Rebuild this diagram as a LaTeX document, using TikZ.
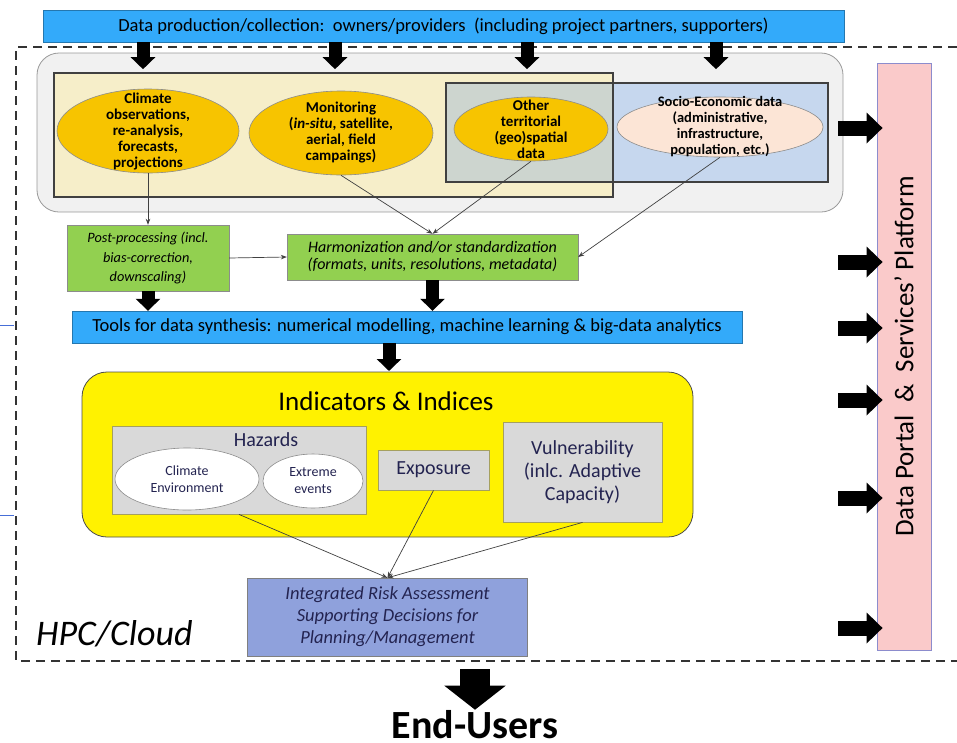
\documentclass[tikz,border=0pt]{standalone}
\usepackage{fontspec}
\setmainfont{Carlito}
\usetikzlibrary{arrows.meta,shapes.geometric}

\definecolor{barblue}{RGB}{51,170,250}
\definecolor{bargrey}{RGB}{241,241,241}
\definecolor{beige}{RGB}{246,238,201}
\definecolor{paleblue}{RGB}{198,215,238}
\definecolor{overlap}{RGB}{205,213,207}
\definecolor{gold}{RGB}{247,196,0}
\definecolor{peach}{RGB}{252,229,214}
\definecolor{leaf}{RGB}{146,208,80}
\definecolor{boxgrey}{RGB}{217,217,217}
\definecolor{olive}{RGB}{165,160,95}
\definecolor{lavender}{RGB}{143,161,220}
\definecolor{rose}{RGB}{250,202,202}
\definecolor{rosedge}{RGB}{140,140,205}
\definecolor{navy}{RGB}{35,35,80}
\definecolor{stray}{RGB}{70,110,215}

\tikzset{
	fatdown/.style={line width=13pt, -{Triangle[width=24pt,length=12pt]}},
	fatright/.style={line width=15pt, -{Triangle[width=30pt,length=16pt]}},
	bigdown/.style={line width=30pt, -{Triangle[width=60pt,length=24pt]}},
	thinarrow/.style={draw=black!75, line width=0.7pt, -{Stealth[length=6pt,width=4.5pt]}},
	bar/.style={draw=barblue!70!black, fill=barblue, inner sep=0pt, font=\fontsize{18.5}{20}\selectfont},
	ell/.style={ellipse, draw=black!45, line width=0.6pt, inner sep=0pt},
	ellfont/.style={align=center, font=\fontsize{15}{16}\selectfont\bfseries},
	greenbox/.style={draw=black!45, fill=leaf, align=center, inner sep=0pt},
	greybox/.style={draw=olive, line width=0.8pt, fill=boxgrey, align=center, inner sep=0pt, text=navy},
	smallfont/.style={align=center, text=navy, font=\fontsize{14}{17}\selectfont}
}

\begin{document}
\begin{tikzpicture}[x=1pt, y=-1pt]
	%%%%% START %%%%%
	\useasboundingbox (0,0) rectangle (957,742);
	
	\node[bar, minimum width=801pt, minimum height=32pt] (prod) at (443.5,26)
		{Data production/collection:\ \ owners/providers\ \ (including project partners, supporters)};
	
	\draw[black!80, line width=2.2pt, dash pattern=on 9pt off 6pt] (957,47) -- (16,47) -- (16,661) -- (957,661);
	\draw[stray, line width=0.8pt] (0,325) -- (14,325);
	\draw[stray, line width=0.8pt] (0,515) -- (14,515);
	
	%% data sources
	\draw[draw=black!40, fill=bargrey, line width=0.8pt, rounded corners=22pt] (37,53) rectangle (843,212);
	\fill[beige] (54,73) rectangle (613,197);
	\fill[paleblue] (446,83) rectangle (828,182);
	\fill[overlap] (446,83) rectangle (613,182);
	\draw[black!75, line width=1.2pt] (54,73) rectangle (613,197);
	\draw[black!75, line width=1.2pt] (446,83) rectangle (828,182);
	
	\node[ell, fill=gold, minimum width=182pt, minimum height=84pt,
		label={[ellfont]center:{Climate\\observations,\\re-analysis,\\forecasts,\\projections}}] (clim) at (148,131) {};
	\node[ell, fill=gold, minimum width=184pt, minimum height=84pt,
		label={[ellfont]center:{Monitoring\\(\textit{in-situ}, satellite,\\aerial, field\\campaings)}}] (moni) at (341,133) {};
	\node[ell, fill=gold, minimum width=154pt, minimum height=64pt,
		label={[ellfont]center:{Other\\territorial\\(geo)spatial\\data}}] (terr) at (531,129) {};
	\node[ell, fill=peach, minimum width=206pt, minimum height=60pt,
		label={[ellfont, font=\fontsize{14.5}{16}\selectfont\bfseries]center:{Socio-Economic data\\(administrative,\\infrastructure,\\population, etc.)}}] (socio) at (720,127) {};
	
	\draw[fatdown] ([xshift=-5pt]clim.north |- prod.south) -- ++(0,27);
	\draw[fatdown] ([xshift=-6pt]moni.north |- prod.south) -- ++(0,27);
	\draw[fatdown] ([xshift=-4pt]terr.north |- prod.south) -- ++(0,27);
	\draw[fatdown] ([xshift=-4pt]socio.north |- prod.south) -- ++(0,27);
	
	%% processing
	\node[greenbox, minimum width=162pt, minimum height=66pt, font=\fontsize{14.3}{19.5}\selectfont\itshape] (post) at (148,258)
		{Post-processing (incl.\\bias-correction,\\downscaling)};
	\node[greenbox, minimum width=291pt, minimum height=46pt, font=\fontsize{16}{17}\selectfont\itshape] (harm) at (432.5,257)
		{Harmonization and/or standardization\\(formats, units, resolutions, metadata)};
	
	\draw[thinarrow] (clim.south) -- (post.north);
	\draw[thinarrow] (moni.south) -- (harm.north);
	\draw[thinarrow] (terr.south) -- (harm.north);
	\draw[thinarrow] (socio.south) -- (harm.east);
	\draw[thinarrow] (post.east) -- (harm.west);
	
	\node[bar, minimum width=670pt, minimum height=32pt] (tools) at (407,327)
		{Tools for data synthesis: numerical modelling, machine learning \& big-data analytics};
	\draw[fatdown] (post.south) -- (post.south |- tools.north);
	\draw[fatdown] (harm.south) -- (harm.south |- tools.north);
	
	%% indicators
	\draw[draw=black!70, fill=yellow, line width=0.8pt, rounded corners=25pt] (82,372) rectangle (693,537);
	\draw[fatdown] (389,343) -- (389,371);
	\node[font=\fontsize{27}{30}\selectfont] (indic) at (386,401) {Indicators \& Indices};
	
	\node[greybox, minimum width=254pt, minimum height=88pt] (haz) at (239,470) {};
	\node[text=navy, font=\fontsize{20}{24}\selectfont] (hazt) at (266,440) {Hazards};
	\node[ell, fill=white, minimum width=144pt, minimum height=62pt,
		label={[smallfont]center:{Climate\\Environment}}] (climenv) at (187,479) {};
	\node[ell, fill=white, minimum width=100pt, minimum height=54pt,
		label={[smallfont]center:{Extreme\\events}}] (extreme) at (313,481) {};
	\node[greybox, minimum width=111pt, minimum height=40pt, font=\fontsize{20}{23}\selectfont] (expo) at (433.5,470) {Exposure};
	\node[greybox, minimum width=159pt, minimum height=100pt, font=\fontsize{20}{23}\selectfont] (vuln) at (582.5,472)
		{Vulnerability\\(inlc. Adaptive\\Capacity)};
	
	%% risk
	\node[draw=black!50, fill=lavender, minimum width=280pt, minimum height=78pt, align=center, inner sep=0pt,
		text=navy, font=\fontsize{18.5}{22}\selectfont\itshape] (integ) at (387.5,617)
		{Integrated Risk Assessment\\Supporting Decisions for\\Planning/Management};
	\draw[thinarrow] (haz.south) -- (integ.north);
	\draw[thinarrow] (expo.south) -- (integ.north);
	\draw[thinarrow] (vuln.south) -- (integ.north);
	
	\node[anchor=base west, inner sep=0pt, font=\fontsize{36}{40}\selectfont\itshape] (hpc) at (36,645) {HPC/Cloud};
	
	%% portal
	\node[draw=rosedge, fill=rose, line width=0.8pt, rotate=90, minimum width=587pt, minimum height=54pt,
		font=\fontsize{27}{30}\selectfont] (portal) at (904,356.5) {Data Portal\ \ \&\ \ Services’ Platform};
	\foreach \y in {128,262,328,400,498,628}
		\draw[fatright] (838,\y) -- ([xshift=6pt]portal.north |- 0,\y);
	
	%% end users
	\node[anchor=base, inner sep=0pt, font=\fontsize{40}{44}\selectfont\bfseries] (users) at (475,738) {End-Users};
	\draw[bigdown] (475,669) -- (users.north);
	
	%%%%% END %%%%%
\end{tikzpicture}
\end{document}
